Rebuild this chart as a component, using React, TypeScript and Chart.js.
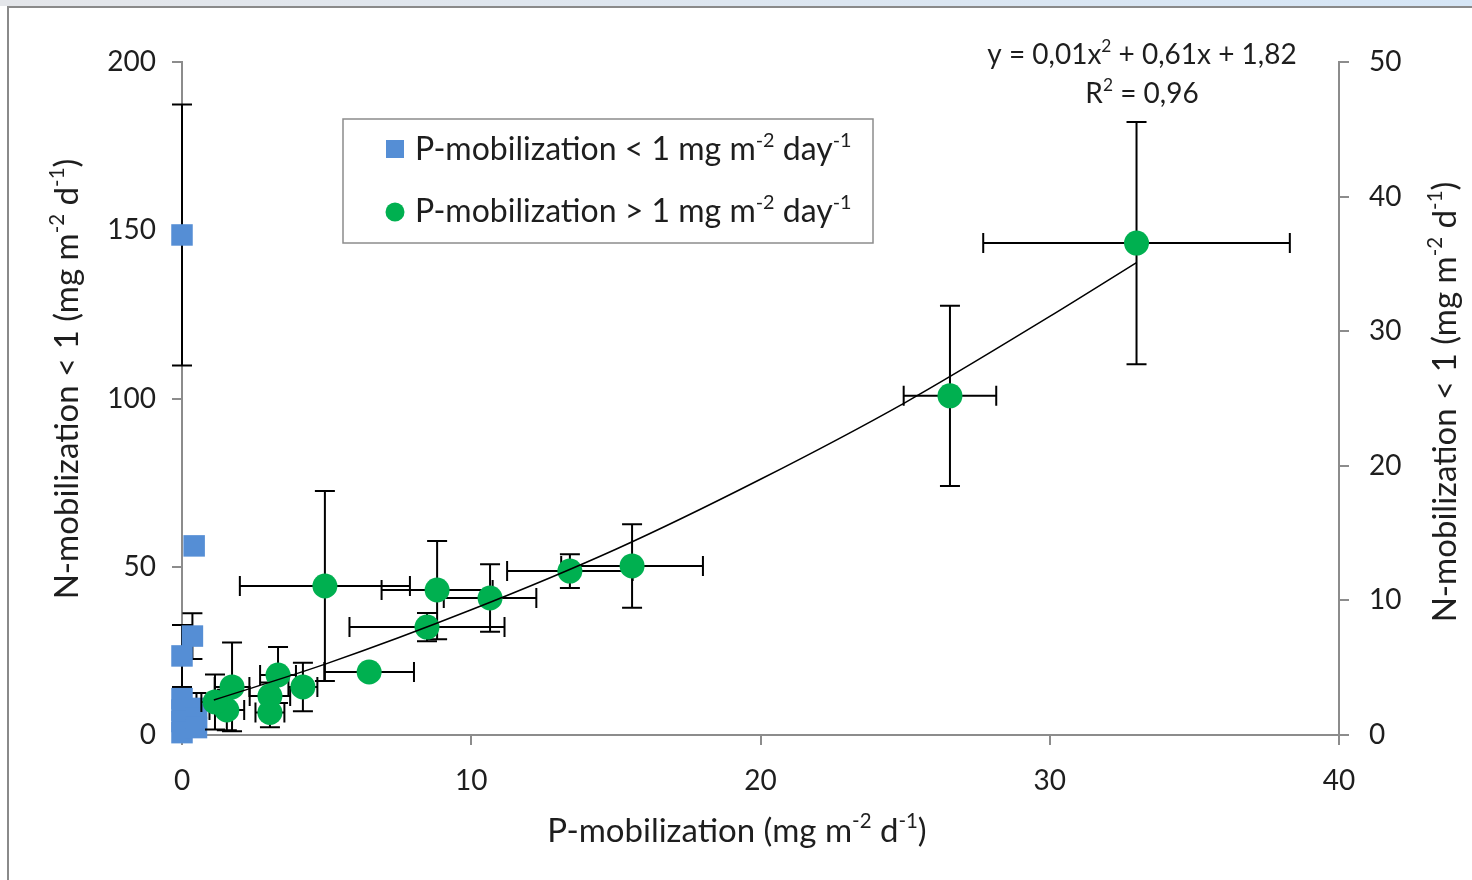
import React, { useEffect, useRef } from 'react';
import { Chart, registerables } from 'chart.js';

Chart.register(...registerables);

// ---- data ----
// Series 1: P-mobilization < 1 (left axis)
const lowX = [0, 0.42, 0.36, 0, 0, 0, 0, 0, 0.5, 0.5, 0.5];
const lowY = [148.6, 56.2, 29.4, 23.5, 10.8, 7.4, 4.0, 0.7, 7.9, 5.0, 2.2];
const lowXErr = [0, 0, 0, 0, 0, 0, 0, 0, 0, 0, 0];
const lowYErr = [38.8, 0, 6.8, 9.2, 0, 0, 0, 0, 4.6, 0, 0];

// Series 2: P-mobilization > 1 (right axis)
const highX = [33.0, 26.55, 15.56, 13.41, 10.65, 8.82, 4.94, 8.47, 6.47, 4.18, 3.32, 3.04, 3.04, 1.73, 1.55, 1.14];
const highY = [36.55, 25.2, 12.56, 12.18, 10.18, 10.77, 11.07, 8.02, 4.68, 3.57, 4.46, 2.9, 1.67, 3.57, 1.86, 2.45];
const highXErr = [5.3, 1.6, 2.45, 2.17, 1.6, 1.92, 2.94, 2.68, 1.55, 0.5, 0.62, 0.7, 0.5, 0.6, 0.6, 0.47];
const highYErr = [9.0, 6.7, 3.1, 1.25, 2.5, 3.65, 7.05, 1.05, 0.3, 1.8, 2.08, 1.0, 1.1, 3.3, 1.5, 2.05];

// Trendline (right axis)
const trendX = [1.1, 5, 10, 15, 20, 25, 30, 33];
const trendY = [2.6, 5.3, 9.3, 13.8, 19.0, 24.7, 31.1, 35.1];

// Axis ticks
const xTicks = [0, 10, 20, 30, 40];
const yLeftTicks = [0, 50, 100, 150, 200];
const yRightTicks = [0, 10, 20, 30, 40, 50];

const BLUE = '#558ED5';
const GREEN = '#00B050';
const AXIS = '#8c8c8c';
const TEXT = '#1e1e1e';
const FONT = 'Lato';

type Part = [string, boolean];

function richWidth(ctx: CanvasRenderingContext2D, parts: Part[], size: number) {
  let w = 0;
  for (const [t, sup] of parts) {
    ctx.font = `${sup ? size * 0.62 : size}px ${FONT}`;
    w += ctx.measureText(t).width;
  }
  return w;
}

function drawRich(ctx: CanvasRenderingContext2D, parts: Part[], x: number, y: number, size: number, align: 'left' | 'center') {
  const w = richWidth(ctx, parts, size);
  let cx = align === 'center' ? x - w / 2 : x;
  ctx.textBaseline = 'middle';
  ctx.textAlign = 'left';
  ctx.fillStyle = TEXT;
  for (const [t, sup] of parts) {
    ctx.font = `${sup ? size * 0.62 : size}px ${FONT}`;
    ctx.fillText(t, cx, sup ? y - size * 0.3 : y);
    cx += ctx.measureText(t).width;
  }
}

const frameAndTextPlugin = {
  id: 'frameAndText',
  beforeDraw(chart: any) {
    const ctx: CanvasRenderingContext2D = chart.ctx;
    const W = chart.width, H = chart.height;
    ctx.save();
    ctx.fillStyle = '#ffffff';
    ctx.fillRect(0, 0, W, H);
    const g = ctx.createLinearGradient(0, 0, W, 0);
    g.addColorStop(0, '#e4e6ea');
    g.addColorStop(1, '#d6e6f6');
    ctx.fillStyle = g;
    ctx.fillRect(0, 0, W, 6);
    ctx.strokeStyle = '#8a8a8a';
    ctx.lineWidth = 2;
    ctx.beginPath();
    ctx.moveTo(8, 7);
    ctx.lineTo(W, 7);
    ctx.moveTo(8, 6);
    ctx.lineTo(8, H);
    ctx.stroke();
    ctx.restore();
  },
  afterDraw(chart: any) {
    const ctx: CanvasRenderingContext2D = chart.ctx;
    ctx.save();
    // Legend box
    ctx.fillStyle = '#ffffff';
    ctx.fillRect(343, 119, 530, 124);
    ctx.strokeStyle = AXIS;
    ctx.lineWidth = 1.5;
    ctx.strokeRect(343, 119, 530, 124);
    ctx.fillStyle = BLUE;
    ctx.fillRect(386, 140, 18, 18);
    ctx.fillStyle = GREEN;
    ctx.beginPath();
    ctx.arc(395, 212, 9.5, 0, Math.PI * 2);
    ctx.fill();
    drawRich(ctx, [['P-mobilization < 1 mg m', false], ['-2', true], [' day', false], ['-1', true]], 415, 150, 32, 'left');
    drawRich(ctx, [['P-mobilization > 1 mg m', false], ['-2', true], [' day', false], ['-1', true]], 415, 212, 32, 'left');

    // Trendline equation
    drawRich(ctx, [['y = 0,01x', false], ['2', true], [' + 0,61x + 1,82', false]], 1142, 55, 28, 'center');
    drawRich(ctx, [['R', false], ['2', true], [' = 0,96', false]], 1142, 94, 28, 'center');

    // Axis titles
    drawRich(ctx, [['P-mobilization (mg m', false], ['-2', true], [' d', false], ['-1', true], [')', false]], 737, 831, 33, 'center');
    const yTitle: Part[] = [['N-mobilization < 1 (mg m', false], ['-2', true], [' d', false], ['-1', true], [')', false]];
    ctx.save();
    ctx.translate(67, 379);
    ctx.rotate(-Math.PI / 2);
    drawRich(ctx, yTitle, 0, 0, 33, 'center');
    ctx.restore();
    ctx.save();
    ctx.translate(1445, 402);
    ctx.rotate(-Math.PI / 2);
    drawRich(ctx, yTitle, 0, 0, 33, 'center');
    ctx.restore();
    ctx.restore();
  },
  beforeDatasetDraw(chart: any, args: any) {
    const ds = chart.data.datasets[args.index];
    const ex: number[] | undefined = ds.xErr;
    const ey: number[] | undefined = ds.yErr;
    if (!ex || !ey) return;
    const ctx: CanvasRenderingContext2D = chart.ctx;
    const xs = chart.scales.x;
    const ys = chart.scales[ds.yAxisID];
    const cap = 10;
    ctx.save();
    ctx.strokeStyle = '#000000';
    ctx.lineWidth = 2;
    ds.data.forEach((p: any, i: number) => {
      const px = xs.getPixelForValue(p.x);
      const py = ys.getPixelForValue(p.y);
      ctx.beginPath();
      if (ey[i]) {
        const t = ys.getPixelForValue(p.y + ey[i]);
        const b = ys.getPixelForValue(p.y - ey[i]);
        ctx.moveTo(px, t); ctx.lineTo(px, b);
        ctx.moveTo(px - cap, t); ctx.lineTo(px + cap, t);
        ctx.moveTo(px - cap, b); ctx.lineTo(px + cap, b);
      }
      if (ex[i]) {
        const l = xs.getPixelForValue(p.x - ex[i]);
        const r = xs.getPixelForValue(p.x + ex[i]);
        ctx.moveTo(l, py); ctx.lineTo(r, py);
        ctx.moveTo(l, py - cap); ctx.lineTo(l, py + cap);
        ctx.moveTo(r, py - cap); ctx.lineTo(r, py + cap);
      }
      ctx.stroke();
    });
    ctx.restore();
  },
};

export default function App() {
  const ref = useRef<HTMLCanvasElement | null>(null);

  useEffect(() => {
    document.body.style.margin = '0';
    const canvas = ref.current;
    if (!canvas) return;
    const tickFont = { family: FONT, size: 28 };
    const chart = new Chart(canvas, {
      type: 'scatter',
      data: {
        datasets: [
          {
            label: 'Trendline',
            data: trendX.map((x, i) => ({ x, y: trendY[i] })),
            yAxisID: 'y1',
            showLine: true,
            borderColor: '#000000',
            borderWidth: 1.5,
            pointRadius: 0,
            fill: false,
            cubicInterpolationMode: 'monotone',
            clip: false,
            order: 0,
          } as any,
          {
            label: 'P-mobilization > 1',
            data: highX.map((x, i) => ({ x, y: highY[i] })),
            yAxisID: 'y1',
            pointStyle: 'circle',
            pointRadius: 12.5,
            pointBorderWidth: 0,
            borderWidth: 0,
            backgroundColor: GREEN,
            pointBackgroundColor: GREEN,
            xErr: highXErr,
            yErr: highYErr,
            clip: false,
            order: 1,
          } as any,
          {
            label: 'P-mobilization < 1',
            data: lowX.map((x, i) => ({ x, y: lowY[i] })),
            yAxisID: 'y',
            pointStyle: 'rect',
            pointRadius: 15.2,
            pointBorderWidth: 0,
            borderWidth: 0,
            backgroundColor: BLUE,
            pointBackgroundColor: BLUE,
            xErr: lowXErr,
            yErr: lowYErr,
            clip: false,
            order: 2,
          } as any,
        ],
      },
      options: {
        animation: false,
        responsive: false,
        maintainAspectRatio: false,
        layout: { padding: { top: 62, left: 0, right: 0, bottom: 0 } },
        plugins: { legend: { display: false }, tooltip: { enabled: false }, title: { display: false } },
        scales: {
          x: {
            type: 'linear',
            position: 'bottom',
            min: 0,
            max: 40,
            afterBuildTicks: (s: any) => { s.ticks = xTicks.map((v) => ({ value: v })); },
            ticks: { font: tickFont, color: TEXT, padding: 19, maxRotation: 0 },
            grid: { drawOnChartArea: false, drawTicks: true, tickLength: 10, color: AXIS, lineWidth: 2 },
            border: { display: true, color: AXIS, width: 2 },
            afterFit: (s: any) => { s.height = 145; },
          },
          y: {
            type: 'linear',
            position: 'left',
            min: 0,
            max: 200,
            afterBuildTicks: (s: any) => { s.ticks = yLeftTicks.map((v) => ({ value: v })); },
            ticks: { font: tickFont, color: TEXT, padding: 16 },
            grid: { drawOnChartArea: false, drawTicks: true, tickLength: 10, color: AXIS, lineWidth: 2 },
            border: { display: true, color: AXIS, width: 2 },
            afterFit: (s: any) => { s.width = 182; },
          },
          y1: {
            type: 'linear',
            position: 'right',
            min: 0,
            max: 50,
            afterBuildTicks: (s: any) => { s.ticks = yRightTicks.map((v) => ({ value: v })); },
            ticks: { font: tickFont, color: TEXT, padding: 20 },
            grid: { drawOnChartArea: false, drawTicks: true, tickLength: 10, color: AXIS, lineWidth: 2 },
            border: { display: true, color: AXIS, width: 2 },
            afterFit: (s: any) => { s.width = 133; },
          },
        },
      } as any,
      plugins: [frameAndTextPlugin as any],
    });
    return () => chart.destroy();
  }, []);

  return (
    <div style={{ width: 1472, height: 880, position: 'relative' }}>
      <canvas ref={ref} width={1472} height={880} style={{ display: 'block', width: 1472, height: 880 }} />
    </div>
  );
}
